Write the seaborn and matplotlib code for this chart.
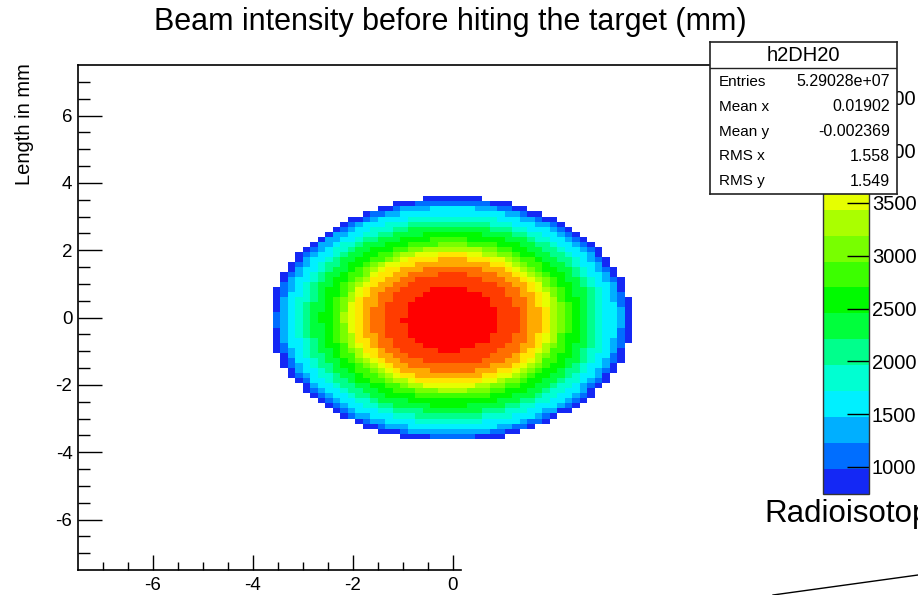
import numpy as np
import pandas as pd
import matplotlib
matplotlib.use("Agg")
import matplotlib.pyplot as plt
import seaborn as sns
from matplotlib.colors import ListedColormap, BoundaryNorm
from matplotlib.lines import Line2D

# ---------------- data ----------------
n_bins = 100
x_range = (-7.5, 7.5)
y_range = (-7.5, 7.5)
beam_center = (-0.03, -0.05)
# outer radius (mm) of each colour ring and the bin content inside it
ring_outer_r = [0.95, 1.35, 1.6, 1.8, 1.95, 2.05, 2.15, 2.25, 2.4, 2.6,
                2.8, 2.95, 3.1, 3.3, 3.42, 3.5, 3.62]
ring_value = [4750, 4530, 4290, 4040, 3800, 3550, 3300, 3060, 2820, 2570,
              2330, 2080, 1840, 1590, 1350, 1100, 860]
# palette levels and colours
level_edges = [740, 985, 1230, 1475, 1720, 1965, 2210, 2455, 2700, 2945,
               3190, 3435, 3680, 3925, 4170, 4415, 4660, 4905]
band_colors = ["#1428f5", "#006eff", "#00afff", "#00f0ff", "#00ffd2",
               "#00ff8c", "#00ff3c", "#00fa00", "#3cff00", "#78ff00",
               "#aaff00", "#e6ff00", "#ffe600", "#ffaa00", "#ff6e00",
               "#ff3c00", "#ff0000"]
cbar_ticks = [1000, 1500, 2000, 2500, 3000, 3500, 4000, 4500]
x_major = [-6, -4, -2, 0]
x_minor = [-7, -6.5, -5.5, -5, -4.5, -3.5, -3, -2.5, -1.5, -1, -0.5]
y_major = [6, 4, 2, 0, -2, -4, -6]
y_minor = [7, 6.5, 5.5, 5, 4.5, 3.5, 3, 2.5, 1.5, 1, 0.5, -0.5, -1, -1.5,
           -2.5, -3, -3.5, -4.5, -5, -5.5, -6.5, -7]
stats_names = ["Entries", "Mean x", "Mean y", "RMS x", "RMS y"]
stats_values = ["5.29028e+07", "0.01902", "-0.002369", "1.558", "1.549"]
hist_name = "h2DH20"
title = "Beam intensity before hiting the target (mm)"
ylabel = "Length in mm"

# ---------------- build histogram cells ----------------
bw = (x_range[1] - x_range[0]) / n_bins
xc = x_range[0] + (np.arange(n_bins) + 0.5) * bw
yc = y_range[1] - (np.arange(n_bins) + 0.5) * bw  # row 0 at top
XX, YY = np.meshgrid(xc, yc)
R = np.hypot(XX - beam_center[0], YY - beam_center[1])
idx = np.searchsorted(ring_outer_r, R)
vals = np.full(R.shape, np.nan)
inside = idx < len(ring_value)
vals[inside] = np.asarray(ring_value)[idx[inside]]
df = pd.DataFrame(vals, index=np.round(yc, 3), columns=np.round(xc, 3))

cmap = ListedColormap(band_colors)
norm = BoundaryNorm(level_edges, cmap.N)

# ---------------- figure ----------------
W, H = 918, 595
fig = plt.figure(figsize=(W / 100, H / 100), dpi=100)
plt.rcParams["axes.unicode_minus"] = False
plt.rcParams["font.family"] = ["Liberation Sans", "DejaVu Sans"]

def fx(px):
    return px / W

def fy(py):
    return 1 - py / H

ax = fig.add_axes([fx(78), fy(570), fx(827) - fx(78), fy(65) - fy(570)])
px_per_val = 105.6 / 1000
cb_top = 467 - (level_edges[-1] - 1000) * px_per_val
cb_bot = 467 + (1000 - level_edges[0]) * px_per_val
cax = fig.add_axes([fx(823), fy(cb_bot), fx(869) - fx(823), fy(cb_top) - fy(cb_bot)])

sns.heatmap(df, cmap=cmap, norm=norm, ax=ax, cbar_ax=cax,
            xticklabels=False, yticklabels=False)

ax.set_xlabel("")
ax.set_ylabel("")
for side in ["left", "top", "bottom"]:
    ax.spines[side].set_visible(True)
    ax.spines[side].set_linewidth(1.2)
    ax.spines[side].set_color("black")
ax.spines["right"].set_visible(False)

def xpos(v):
    return (v - x_range[0]) / bw

def ypos(v):
    return (y_range[1] - v) / bw

ax.spines["bottom"].set_bounds(0, xpos(0.18))

ax.set_xticks([xpos(v) for v in x_major])
ax.set_xticklabels([f"{v:g}" for v in x_major])
ax.set_xticks([xpos(v) for v in x_minor], minor=True)
ax.set_yticks([ypos(v) for v in y_major])
ax.set_yticklabels([f"{v:g}" for v in y_major])
ax.set_yticks([ypos(v) for v in y_minor], minor=True)
ax.tick_params(axis="x", which="major", direction="in", length=11, width=1,
               labelsize=13.5, pad=5, bottom=True, top=False)
ax.tick_params(axis="x", which="minor", direction="in", length=5.5, width=1,
               bottom=True, top=False)
ax.tick_params(axis="y", which="major", direction="in", length=17, width=1,
               labelsize=13.5, pad=4, left=True, right=False)
ax.tick_params(axis="y", which="minor", direction="in", length=8.5, width=1,
               left=True, right=False)

# colorbar
cbar = ax.collections[0].colorbar
cbar.set_ticks(cbar_ticks)
cbar.set_ticklabels([str(t) for t in cbar_ticks])
cax.minorticks_off()
cax.tick_params(direction="in", length=16, width=1, labelsize=14.5, pad=2,
                colors="black")
cbar.outline.set_linewidth(1)
cbar.outline.set_edgecolor("#333333")

# title and axis title
fig.text(fx(450), fy(22), title, ha="center", va="center", fontsize=22)
fig.text(fx(25), fy(63), ylabel, rotation=90, ha="center", va="top",
         fontsize=14.5)

# stats box
sax = fig.add_axes([fx(710), fy(194), fx(897) - fx(710), fy(42) - fy(194)])
sax.set_xlim(710, 897)
sax.set_ylim(194, 42)
sax.set_facecolor("white")
for s in sax.spines.values():
    s.set_linewidth(1.2)
    s.set_color("#222222")
sax.set_xticks([])
sax.set_yticks([])
sax.plot([710, 897], [68, 68], color="#222222", lw=1)
sax.text(803.5, 55.5, hist_name, ha="center", va="center", fontsize=14.5)
for i, (nm, vl) in enumerate(zip(stats_names, stats_values)):
    yy = 82 + i * 24.8
    sax.text(719, yy, nm, ha="left", va="center", fontsize=11)
    sax.text(890, yy, vl, ha="right", va="center", fontsize=11.5)

# cut-off text and line from the neighbouring pad
fig.text(fx(764), fy(514), "Radioisotop", ha="left", va="center", fontsize=22.5)
fig.add_artist(Line2D([fx(773), fx(918)], [fy(595), fy(575)], color="black",
                      lw=1, transform=fig.transFigure))

fig.savefig("out.png", dpi=100)
